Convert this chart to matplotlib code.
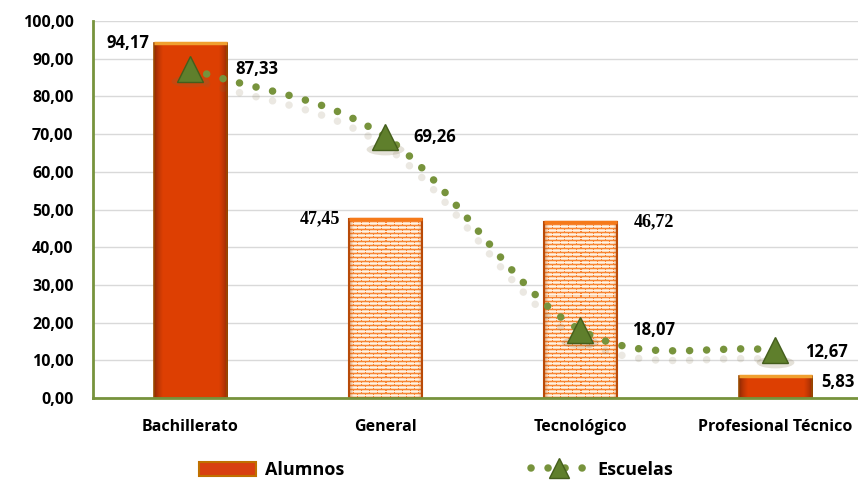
import numpy as np
import matplotlib
matplotlib.use("Agg")
import matplotlib.pyplot as plt
from matplotlib.patches import Patch
from matplotlib.lines import Line2D
from matplotlib.markers import MarkerStyle
from matplotlib.transforms import Affine2D, ScaledTranslation
import matplotlib.patheffects as pe

# ---------------- data ----------------
categories = ["Bachillerato", "General", "Tecnológico", "Profesional Técnico"]
alumnos = [94.17, 47.45, 46.72, 5.83]
escuelas = [87.33, 69.26, 18.07, 12.67]
yticks = [0, 10, 20, 30, 40, 50, 60, 70, 80, 90, 100]
series_names = ["Alumnos", "Escuelas"]
bar_styles = ["solid", "brick", "brick", "solid"]

# ---------------- style ----------------
W, H = 858, 482
fig = plt.figure(figsize=(W / 100, H / 100), dpi=100)
left_px, right_px, top_px, bot_px = 93, 872.5, 21, 398
ax = fig.add_axes([left_px / W, 1 - bot_px / H, (right_px - left_px) / W, (bot_px - top_px) / H])
ax.set_xlim(-0.5, 3.5)
ax.set_ylim(0, 100)

SANS = ["Open Sans", "DejaVu Sans"]
SERIF = ["Liberation Serif", "DejaVu Serif"]
green = "#77933C"

ax.set_yticks(yticks)
ax.set_yticklabels([f"{v:.2f}".replace(".", ",") for v in yticks],
                   fontsize=11.5, fontweight="bold", family=SANS)
ax.set_xticks(range(len(categories)))
ax.set_xticklabels(categories, fontsize=11.5, fontweight="bold", family=SANS)
ax.tick_params(axis="y", length=0, pad=14)
ax.tick_params(axis="x", length=0, pad=15)
ax.yaxis.grid(True, color="#d9d9d9", linewidth=1)
ax.set_axisbelow(True)
for s in ["top", "right"]:
    ax.spines[s].set_visible(False)
ax.spines["left"].set_color(green)
ax.spines["left"].set_linewidth(2)
ax.spines["bottom"].set_color(green)
ax.spines["bottom"].set_linewidth(2)

bw = 0.375
bars = ax.bar(range(len(categories)), alumnos, width=bw, zorder=2,
              facecolor="#D83B01", edgecolor="none")

tex_h = int(bot_px - top_px)
tex_w = 73


def solid_texture():
    xs = np.linspace(0, 1, tex_w)
    prof = np.clip(np.minimum(xs, 1 - xs) / 0.12, 0, 1) ** 0.6
    base = np.array([0.87, 0.25, 0.01])
    dark = np.array([0.52, 0.15, 0.02])
    cols = dark[None, :] * (1 - prof[:, None]) + base[None, :] * prof[:, None]
    return np.repeat(cols[None, :, :], tex_h, axis=0)


def brick_texture():
    base = np.array([0.99, 0.84, 0.70])
    line = np.array([0.97, 0.52, 0.20])
    img = np.ones((tex_h, tex_w, 3)) * base
    for r in range(tex_h):
        row = tex_h - 1 - r
        if row % 4 == 0:
            img[r, :] = line
        elif row % 4 == 2:
            img[r, :] = np.array([1.0, 0.95, 0.90])
        else:
            off = 0 if (row // 4) % 2 == 0 else 4
            for c in range(tex_w):
                if (c + off) % 8 == 0:
                    img[r, c] = line
    xs = np.linspace(0, 1, tex_w)
    prof = np.clip(np.minimum(xs, 1 - xs) / 0.06, 0, 1) ** 0.7
    shade = 0.45 + 0.55 * prof
    img = img * shade[None, :, None] + (1 - shade[None, :, None]) * np.array([0.72, 0.28, 0.0])
    return np.clip(img, 0, 1)


for b, st in zip(bars, bar_styles):
    x0 = b.get_x()
    x1 = x0 + b.get_width()
    img = solid_texture() if st == "solid" else brick_texture()
    im = ax.imshow(img, extent=(x0, x1, 0, 100), aspect="auto", zorder=2.1,
                   interpolation="nearest", origin="upper")
    im.set_clip_path(b)
    if st == "solid":
        b.set_edgecolor("#9c4a00")
        b.set_linewidth(1.2)
        ax.plot([x0, x1], [b.get_height(), b.get_height()], color="#F0A030",
                linewidth=2.5, zorder=2.3, solid_capstyle="butt")
    else:
        b.set_edgecolor("#b84a08")
        b.set_linewidth(1.5)
        ax.plot([x0, x1], [b.get_height(), b.get_height()], color="#F57A1A",
                linewidth=2.5, zorder=2.3, solid_capstyle="butt")
    b.set_zorder(2.2)
    b.set_facecolor("none")

ax.set_xlim(-0.5, 3.5)
ax.set_ylim(0, 100)

# smooth line (Catmull-Rom in pixel-like space)
sx = (right_px - left_px) / 4.0
sy = (bot_px - top_px) / 100.0
pts = np.column_stack([np.arange(len(escuelas)) * sx, np.array(escuelas) * sy])
ext = np.vstack([2 * pts[0] - pts[1], pts, 2 * pts[-1] - pts[-2]])
seg = []
for i in range(1, len(ext) - 2):
    p0, p1, p2, p3 = ext[i - 1:i + 3]
    t = np.linspace(0, 1, 60, endpoint=False)[:, None]
    seg.append(0.5 * ((2 * p1) + (-p0 + p2) * t + (2 * p0 - 5 * p1 + 4 * p2 - p3) * t ** 2
                      + (-p0 + 3 * p1 - 3 * p2 + p3) * t ** 3))
seg.append(pts[-1:])
curve = np.vstack(seg)
cx, cy = curve[:, 0] / sx, curve[:, 1] / sy

LW = 5.4
DASH = (0, (0.01, 12.2 / LW))
ax.plot(cx, cy, color=green, linewidth=LW, linestyle=DASH,
        dash_capstyle="round", zorder=3,
        path_effects=[pe.SimpleLineShadow(offset=(0, -7), shadow_color="#7a6a40", alpha=0.15),
                      pe.Normal()])

# soft shadows under triangles
shadow_tr = ax.transData + ScaledTranslation(0, -12 / 100, fig.dpi_scale_trans)
ell = MarkerStyle("o", transform=Affine2D().scale(1.6, 0.5))
ax.plot(range(len(escuelas)), escuelas, linestyle="none", marker=ell, markersize=17,
        color="#7a6a40", alpha=0.2, markeredgewidth=0, zorder=3.5, transform=shadow_tr)
ax.plot(range(len(escuelas)), escuelas, linestyle="none", marker="^", markersize=19,
        markerfacecolor="#5f7f2c", markeredgecolor="#445e1c", markeredgewidth=1, zorder=4)

PT = 0.72
lab_kw = dict(fontsize=12, fontweight="bold", family=SANS, va="center", textcoords="offset points")
ax.annotate(f"{alumnos[0]:.2f}".replace(".", ","), xy=(0 - bw / 2, alumnos[0]), xytext=(-5 * PT, 0),
            ha="right", **lab_kw)
ax.annotate(f"{alumnos[1]:.2f}".replace(".", ","), xy=(1 - bw / 2, alumnos[1]), xytext=(-9 * PT, 0),
            ha="right", fontsize=13, fontweight="bold", family=SERIF, va="center", textcoords="offset points")
ax.annotate(f"{alumnos[2]:.2f}".replace(".", ","), xy=(2 + bw / 2, alumnos[2]), xytext=(17 * PT, 0),
            ha="left", fontsize=13, fontweight="bold", family=SERIF, va="center", textcoords="offset points")
ax.annotate(f"{alumnos[3]:.2f}".replace(".", ","), xy=(3 + bw / 2, alumnos[3]), xytext=(10 * PT, -6 * PT),
            ha="left", **lab_kw)
esc_off = [(45, 0), (28, 0), (52, 0), (30, -2)]
for i, v in enumerate(escuelas):
    ax.annotate(f"{v:.2f}".replace(".", ","), xy=(i, v), xytext=(esc_off[i][0] * PT, esc_off[i][1] * PT),
                ha="left", **lab_kw)

# legend
h1 = Patch(facecolor="#D84010", edgecolor="#c07000", linewidth=1.5)
h2 = Line2D([0], [0], color=green, linewidth=LW, linestyle=DASH, dash_capstyle="round",
            marker="^", markersize=15, markerfacecolor="#5f7f2c", markeredgecolor="#445e1c")
leg = fig.legend([h1, h2], series_names, loc="center", bbox_to_anchor=(0.508, 0.025), ncol=2,
                 frameon=False, handlelength=3.2, handleheight=0.8, columnspacing=10.3,
                 prop={"family": SANS, "weight": "bold", "size": 13}, handletextpad=0.5)

fig.savefig("out.png", dpi=100)
